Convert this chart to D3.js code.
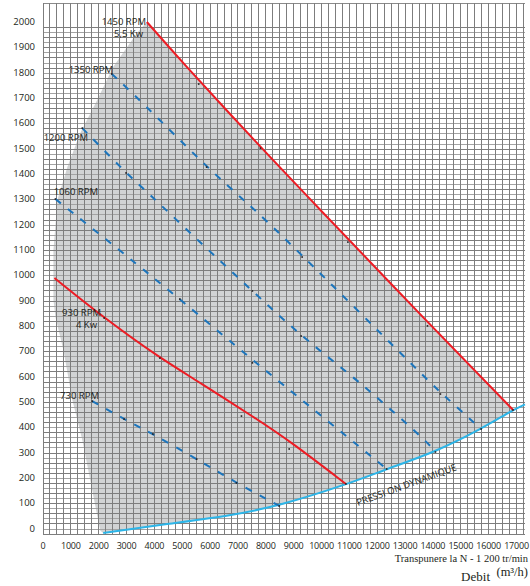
<!DOCTYPE html>
<html>
<head>
<meta charset="utf-8">
<script src="https://cdn.jsdelivr.net/npm/d3@7/dist/d3.min.js"></script>
<style>
  body { margin: 0; background: #fff; }
  svg text { font-family: "Open Sans", Roboto, sans-serif; fill: #231f20; }
</style>
</head>
<body>
<svg id="chart" width="530" height="586"></svg>
<script>
// ticks
let xTicks = d3.range(0, 17001, 1000);
let yTicks = d3.range(0, 2001, 100);

// curves: [debit m3/h, pression]
let rpm1450 = [[3730,1998],[4910,1850],[7800,1505],[9620,1295],[13840,809],[16880,466]];
let rpm1350 = [[2470,1793],[3480,1690],[5875,1425],[7340,1283],[8730,1140],[13554,612],[14268,535],[15730,391]];
let rpm1200 = [[1411,1579],[2982,1402],[3661,1335],[5554,1137],[7518,936],[9268,758],[11054,604],[12304,486],[13839,335],[14089,300]];
let rpm1060 = [[446,1299],[2875,1086],[3839,999],[4911,904],[7125,700],[8125,610],[12339,233]];
let rpm930 = [[411,987],[2196,829],[4196,671],[5625,575],[7650,432],[8839,345],[10875,174]];
let rpm730 = [[1768,501],[2911,430],[3946,371],[5518,272],[6946,178],[8482,87]];
let pressionDyn = [[2161,-20],[4446,16],[6804,50],[8482,88],[10911,172],[12339,233],[14089,300],[15732,391],[16875,466],[17304,488]];
let leftEdge = [[2054,-10],[1411,347],[1054,505],[732,703],[446,833],[375,900],[375,1098],[518,1295],[875,1425],[1339,1560],[1946,1690],[2518,1820],[3375,1955]];

// small black dots marked on the curves
let marks = [[5590,1753],[7804,1500],[10946,1129],[13804,798],[16875,466],
             [2470,1793],[5875,1425],[9304,1070],[14268,529],[15732,391],
             [1411,1579],[2982,1402],[7518,936],[9268,758],[12339,233],[14089,300],
             [446,1299],[4911,904],[7518,652],
             [2196,829],[4196,671],[7125,442],[8839,312],[10875,174],
             [1768,501],[2911,430],[3946,371],[5518,272],[6946,178],[8482,87]];

let curveLabels = [
  {t: "1450 RPM", x: 146, y: 25},
  {t: "5,5 Kw", x: 143, y: 36.5},
  {t: "1350 RPM", x: 113, y: 72.5},
  {t: "1200 RPM", x: 88, y: 140.5},
  {t: "1060 RPM", x: 98, y: 194.5},
  {t: "930 RPM", x: 101, y: 315.5},
  {t: "4 Kw", x: 97, y: 327.5},
  {t: "730 RPM", x: 99, y: 398.5}
];

let svg = d3.select("#chart");

let x = d3.scaleLinear().domain([0, 17000]).range([43, 516.5]);
let y = d3.scaleLinear().domain([0, 2000]).range([528, 21.5]);

let line = d3.line()
    .x(function(d) { return x(d[0]); })
    .y(function(d) { return y(d[1]); })
    .curve(d3.curveBasis);

// shaded working zone
let zone = leftEdge.concat(rpm1450, pressionDyn.slice().reverse());
svg.append("path")
    .attr("d", d3.line().x(d => x(d[0])).y(d => y(d[1]))(zone) + "Z")
    .attr("fill", "#d1d3d4");

// grid
let grid = svg.append("g").attr("shape-rendering", "crispEdges");
grid.append("line")
    .attr("x1", x(0)).attr("x2", x(17300))
    .attr("y1", 3).attr("y2", 3)
    .attr("stroke", "#8a8a8a").attr("stroke-width", 1);
grid.selectAll(".h")
    .data(d3.range(0, 101))
    .enter().append("line")
    .attr("x1", x(0)).attr("x2", x(17300))
    .attr("y1", function(k) { return y(-24 + 20 * k); })
    .attr("y2", function(k) { return y(-24 + 20 * k); })
    .attr("stroke", function(k) { return k % 2 == 0 ? "#7d7d7d" : "#a3a3a3"; })
    .attr("stroke-width", 1);
grid.selectAll(".v")
    .data(d3.range(0, 17301, 250))
    .enter().append("line")
    .attr("x1", function(d) { return x(d); })
    .attr("x2", function(d) { return x(d); })
    .attr("y1", 3).attr("y2", y(-24))
    .attr("stroke", "#7d7d7d")
    .attr("stroke-width", 1);

// curves
svg.append("path").datum(pressionDyn)
    .attr("d", line).attr("fill", "none")
    .attr("stroke", "#2cb5e8").attr("stroke-width", 2);

[rpm1350, rpm1200, rpm1060, rpm730].forEach(function(c) {
  svg.append("path").datum(c)
      .attr("d", line).attr("fill", "none")
      .attr("stroke", "#1c75bc").attr("stroke-width", 2)
      .attr("stroke-dasharray", "7,9");
});

[rpm1450, rpm930].forEach(function(c) {
  svg.append("path").datum(c)
      .attr("d", line).attr("fill", "none")
      .attr("stroke", "#ed1c24").attr("stroke-width", 2);
});

svg.selectAll(".mark")
    .data(marks)
    .enter().append("rect")
    .attr("x", function(d) { return x(d[0]) - 0.8; })
    .attr("y", function(d) { return y(d[1]) - 0.8; })
    .attr("width", 1.6).attr("height", 1.6)
    .attr("fill", "#231f20");

// axes labels
svg.selectAll(".ytick")
    .data(yTicks)
    .enter().append("text")
    .attr("x", 35)
    .attr("y", function(d) { return y(d) + 3.5; })
    .attr("text-anchor", "end")
    .attr("font-size", 9.5)
    .text(function(d) { return d; });

svg.selectAll(".xtick")
    .data(xTicks)
    .enter().append("text")
    .attr("x", function(d) { return x(d); })
    .attr("y", 548.5)
    .attr("text-anchor", "middle")
    .attr("font-size", 9)
    .attr("letter-spacing", -0.2)
    .text(function(d) { return d; });

svg.selectAll(".clabel")
    .data(curveLabels)
    .enter().append("text")
    .attr("x", function(d) { return d.x; })
    .attr("y", function(d) { return d.y; })
    .attr("text-anchor", "end")
    .attr("font-size", 9.5)
    .text(function(d) { return d.t; });

svg.append("text")
    .attr("transform", "translate(358,506) rotate(-20)")
    .attr("font-size", 9.5)
    .text("PRESSI ON DYNAMIQUE");

svg.append("text")
    .attr("x", 528).attr("y", 562)
    .attr("text-anchor", "end")
    .style("font-family", "'Liberation Serif', serif")
    .attr("font-size", 10.5)
    .text("Transpunere la N - 1 200 tr/min");

svg.append("text")
    .attr("x", 490).attr("y", 581)
    .attr("text-anchor", "end")
    .style("font-family", "'Liberation Serif', serif")
    .attr("font-size", 13)
    .text("Debit");

svg.append("text")
    .attr("x", 528).attr("y", 576)
    .attr("text-anchor", "end")
    .style("font-family", "'Liberation Serif', serif")
    .attr("font-size", 12.5)
    .text("(m³/h)");
</script>
</body>
</html>
